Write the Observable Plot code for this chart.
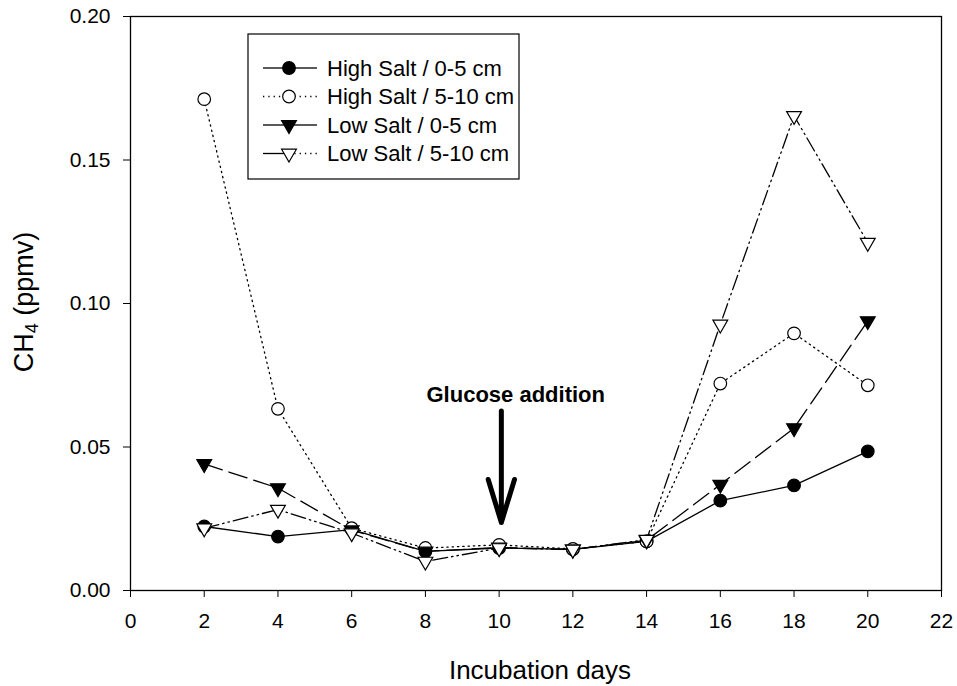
<!DOCTYPE html>
<html>
<head>
<meta charset="utf-8">
<script src="https://cdn.jsdelivr.net/npm/d3@7"></script>
<script src="https://cdn.jsdelivr.net/npm/@observablehq/plot@0.6"></script>
<style>
  body { margin: 0; background: #fff; }
  #chart { position: relative; width: 957px; height: 686px; }
</style>
</head>
<body>
<div id="chart"></div>
<script>
// ---- data ----
const days = [2, 4, 6, 8, 10, 12, 14, 16, 18, 20];
const highSalt0_5  = [0.0223, 0.0188, 0.0212, 0.0136, 0.0148, 0.0143, 0.0171, 0.0313, 0.0366, 0.0485];
const highSalt5_10 = [0.1712, 0.0633, 0.0217, 0.0148, 0.0159, 0.0145, 0.0171, 0.0721, 0.0896, 0.0715];
const lowSalt0_5   = [0.0441, 0.0357, 0.0210, 0.0136, 0.0150, 0.0143, 0.0175, 0.0369, 0.0566, 0.0939];
const lowSalt5_10  = [0.0217, 0.0282, 0.0200, 0.0101, 0.0148, 0.0143, 0.0177, 0.0927, 0.1654, 0.1212];
const seriesNames = ["High Salt / 0-5 cm", "High Salt / 5-10 cm", "Low Salt / 0-5 cm", "Low Salt / 5-10 cm"];
const seriesValues = [highSalt0_5, highSalt5_10, lowSalt0_5, lowSalt5_10];
const xTicks = [0, 2, 4, 6, 8, 10, 12, 14, 16, 18, 20, 22];
const yTicks = [0.00, 0.05, 0.10, 0.15, 0.20];
const xTitle = "Incubation days";
const yTitleParts = ["CH", "4", " (ppmv)"];
const annotationLabel = [{day: 10.45, ch4: 0.0682, text: "Glucose addition"}];
const annotationArrow = [{day: 10.06, from: 0.0730, to: 0.0237}];

// ---- styles ----
const triangleDown = {
  draw(context, size) {
    const y = -Math.sqrt(size / (Math.sqrt(3) * 3));
    context.moveTo(0, -y * 2);
    context.lineTo(-Math.sqrt(3) * y, y);
    context.lineTo(Math.sqrt(3) * y, y);
    context.closePath();
  }
};
const styles = [
  {symbol: "circle", fill: "black", dash: null, r: 6.3, legL: null, legR: null},
  {symbol: "circle", fill: "white", dash: "1.3,4", r: 6.3, legL: "1.3,4", legR: "1.3,4"},
  {symbol: triangleDown, fill: "black", dash: "19,7", r: 5.5, legL: null, legR: null},
  {symbol: triangleDown, fill: "white", dash: "15,4,1.5,4,1.5,4", r: 5.5, legL: null, legR: "1.3,4"}
];

const table = seriesNames.map((name, i) =>
  days.map((d, j) => ({series: name, day: d, ch4: seriesValues[i][j]})));

const marks = [Plot.frame({stroke: "black", strokeWidth: 1.3})];
table.forEach((rows, i) => {
  const s = styles[i];
  marks.push(Plot.line(rows, {x: "day", y: "ch4", stroke: "black", strokeWidth: 1.3, strokeDasharray: s.dash}));
  marks.push(Plot.dot(rows, {x: "day", y: "ch4", symbol: s.symbol, r: s.r, fill: s.fill, stroke: "black", strokeWidth: 1.2}));
});
marks.push(Plot.arrow(annotationArrow, {
  x1: "day", x2: "day", y1: "from", y2: "to",
  stroke: "black", strokeWidth: 5, headLength: 13.5, headAngle: 34, insetStart: 30
}));
marks.push(Plot.text(annotationLabel, {
  x: "day", y: "ch4", text: "text", fontWeight: "bold", fontSize: 22, fill: "black"
}));
marks.push(Plot.axisX({ticks: xTicks, tickSize: 7, tickPadding: 16, label: null, fontSize: 21}));
marks.push(Plot.axisY({ticks: yTicks, tickSize: 7, tickPadding: 13, label: null, tickFormat: d3.format(".2f"), fontSize: 21}));

const svgNode = Plot.plot({
  width: 957,
  height: 686,
  marginLeft: 130,
  marginRight: 16,
  marginTop: 16,
  marginBottom: 96,
  style: {fontFamily: "'Liberation Sans', Arial, sans-serif", fontSize: "21px", color: "black", background: "white"},
  x: {domain: [0, 22]},
  y: {domain: [0, 0.2]},
  marks
});
document.getElementById("chart").appendChild(svgNode);

// ---- axis titles & legend ----
const svg = d3.select(svgNode);
const font = "'Liberation Sans', Arial, sans-serif";
svg.append("text")
  .attr("x", 540).attr("y", 679)
  .attr("text-anchor", "middle")
  .attr("font-family", font).attr("font-size", 26).attr("fill", "black")
  .text(xTitle);

const yt = svg.append("text")
  .attr("transform", "translate(33,302) rotate(-90)")
  .attr("text-anchor", "middle")
  .attr("font-family", font).attr("font-size", 27).attr("fill", "black");
yt.append("tspan").text(yTitleParts[0]);
yt.append("tspan").attr("font-size", 18).attr("dy", "0.28em").text(yTitleParts[1]);
yt.append("tspan").attr("dy", "-0.18em").text(yTitleParts[2]);

const leg = svg.append("g");
leg.append("rect").attr("x", 248).attr("y", 34).attr("width", 271).attr("height", 145)
  .attr("fill", "white").attr("stroke", "black").attr("stroke-width", 1.2);
const rowY = [68, 96.5, 125, 153.5];
seriesNames.forEach((name, i) => {
  const s = styles[i], y = rowY[i];
  const l1 = leg.append("line").attr("x1", 263).attr("x2", 289).attr("y1", y).attr("y2", y)
    .attr("stroke", "black").attr("stroke-width", 1.3);
  if (s.legL) l1.attr("stroke-dasharray", s.legL);
  const l2 = leg.append("line").attr("x1", 289).attr("x2", 317).attr("y1", y).attr("y2", y)
    .attr("stroke", "black").attr("stroke-width", 1.3);
  if (s.legR) l2.attr("stroke-dasharray", s.legR);
  const symType = s.symbol === "circle" ? d3.symbolCircle : s.symbol;
  leg.append("path").attr("d", d3.symbol(symType, Math.PI * s.r * s.r)())
    .attr("transform", `translate(289,${y})`)
    .attr("fill", s.fill).attr("stroke", "black").attr("stroke-width", 1.2);
  leg.append("text").attr("x", 327).attr("y", y).attr("dy", "0.35em")
    .attr("text-anchor", "start")
    .attr("font-family", font).attr("font-size", 22).attr("fill", "black")
    .text(name);
});
</script>
</body>
</html>
